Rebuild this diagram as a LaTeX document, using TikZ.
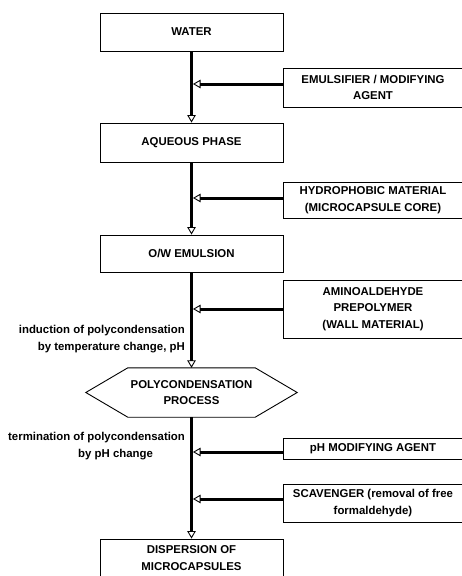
\documentclass[tikz,border=0pt]{standalone}
\usepackage{fontspec}
\setmainfont{Liberation Sans}
\usetikzlibrary{arrows.meta}
\begin{document}
\begin{tikzpicture}[x=1pt,y=-1pt,
  every node/.style={font=\bfseries\fontsize{11.4}{16.5}\selectfont, inner sep=0pt},
  mainbox/.style={draw, line width=0.9pt, minimum width=183pt, align=center},
  sidebox/.style={draw, line width=0.9pt, minimum width=180pt, align=center},
  flow/.style={line width=3pt, -{Triangle[open, length=7.5pt, width=8.5pt, line width=0.9pt]}},
  note/.style={align=right}
]
\useasboundingbox (0,0) rectangle (461,576);
% main column
\node[mainbox, minimum height=38pt] (water) at (191.5,32) {WATER};
\node[mainbox, minimum height=39pt] (aq) at (191.5,142.5) {AQUEOUS PHASE};
\node[mainbox, minimum height=37pt] (ow) at (191.5,253.5) {O/W EMULSION};
\node[minimum width=211pt, minimum height=49pt, align=center] (poly) at (191.5,392.5) {POLYCONDENSATION\\PROCESS};
\draw[line width=0.9pt] (poly.west) -- ([xshift=42pt]poly.north west) -- ([xshift=-42pt]poly.north east) -- (poly.east) -- ([xshift=-42pt]poly.south east) -- ([xshift=42pt]poly.south west) -- cycle;
\node[mainbox, minimum height=38pt] (disp) at (191.5,558) {DISPERSION OF\\MICROCAPSULES};
% side boxes
\node[sidebox, minimum height=39pt] (emul) at (373,87.5) {EMULSIFIER / MODIFYING\\AGENT};
\node[sidebox, minimum height=36pt] (hyd) at (373,200) {HYDROPHOBIC MATERIAL\\(MICROCAPSULE CORE)};
\node[sidebox, minimum height=58pt] (amino) at (373,309) {AMINOALDEHYDE\\PREPOLYMER\\(WALL MATERIAL)};
\node[sidebox, minimum height=21pt] (ph) at (373,448.5) {pH MODIFYING AGENT};
\node[sidebox, minimum height=38pt] (scav) at (373,503) {SCAVENGER (removal of free\\formaldehyde)};
% notes
\node[note, anchor=east] (ind) at (185,339) {induction of polycondensation\\by temperature change, pH};
\node[align=left, anchor=west] (term) at (8,446) {termination of polycondensation\\\hspace*{70pt}by pH change};
% junction points on the spine
\coordinate (j1) at (193,84);
\coordinate (j2) at (193,198);
\coordinate (j3) at (193,309);
\coordinate (j4) at (193,452);
\coordinate (j5) at (193,499);
% spine
\draw[flow] (water.south) -- (aq.north);
\draw[flow] (aq.south) -- (ow.north);
\draw[flow] (ow.south) -- (poly.north);
\draw[flow] (poly.south) -- (disp.north);
% side inputs
\draw[flow] (emul.west |- j1) -- (j1);
\draw[flow] (hyd.west |- j2) -- (j2);
\draw[flow] (amino.west |- j3) -- (j3);
\draw[flow] (ph.west |- j4) -- (j4);
\draw[flow] (scav.west |- j5) -- (j5);
\end{tikzpicture}
\end{document}
